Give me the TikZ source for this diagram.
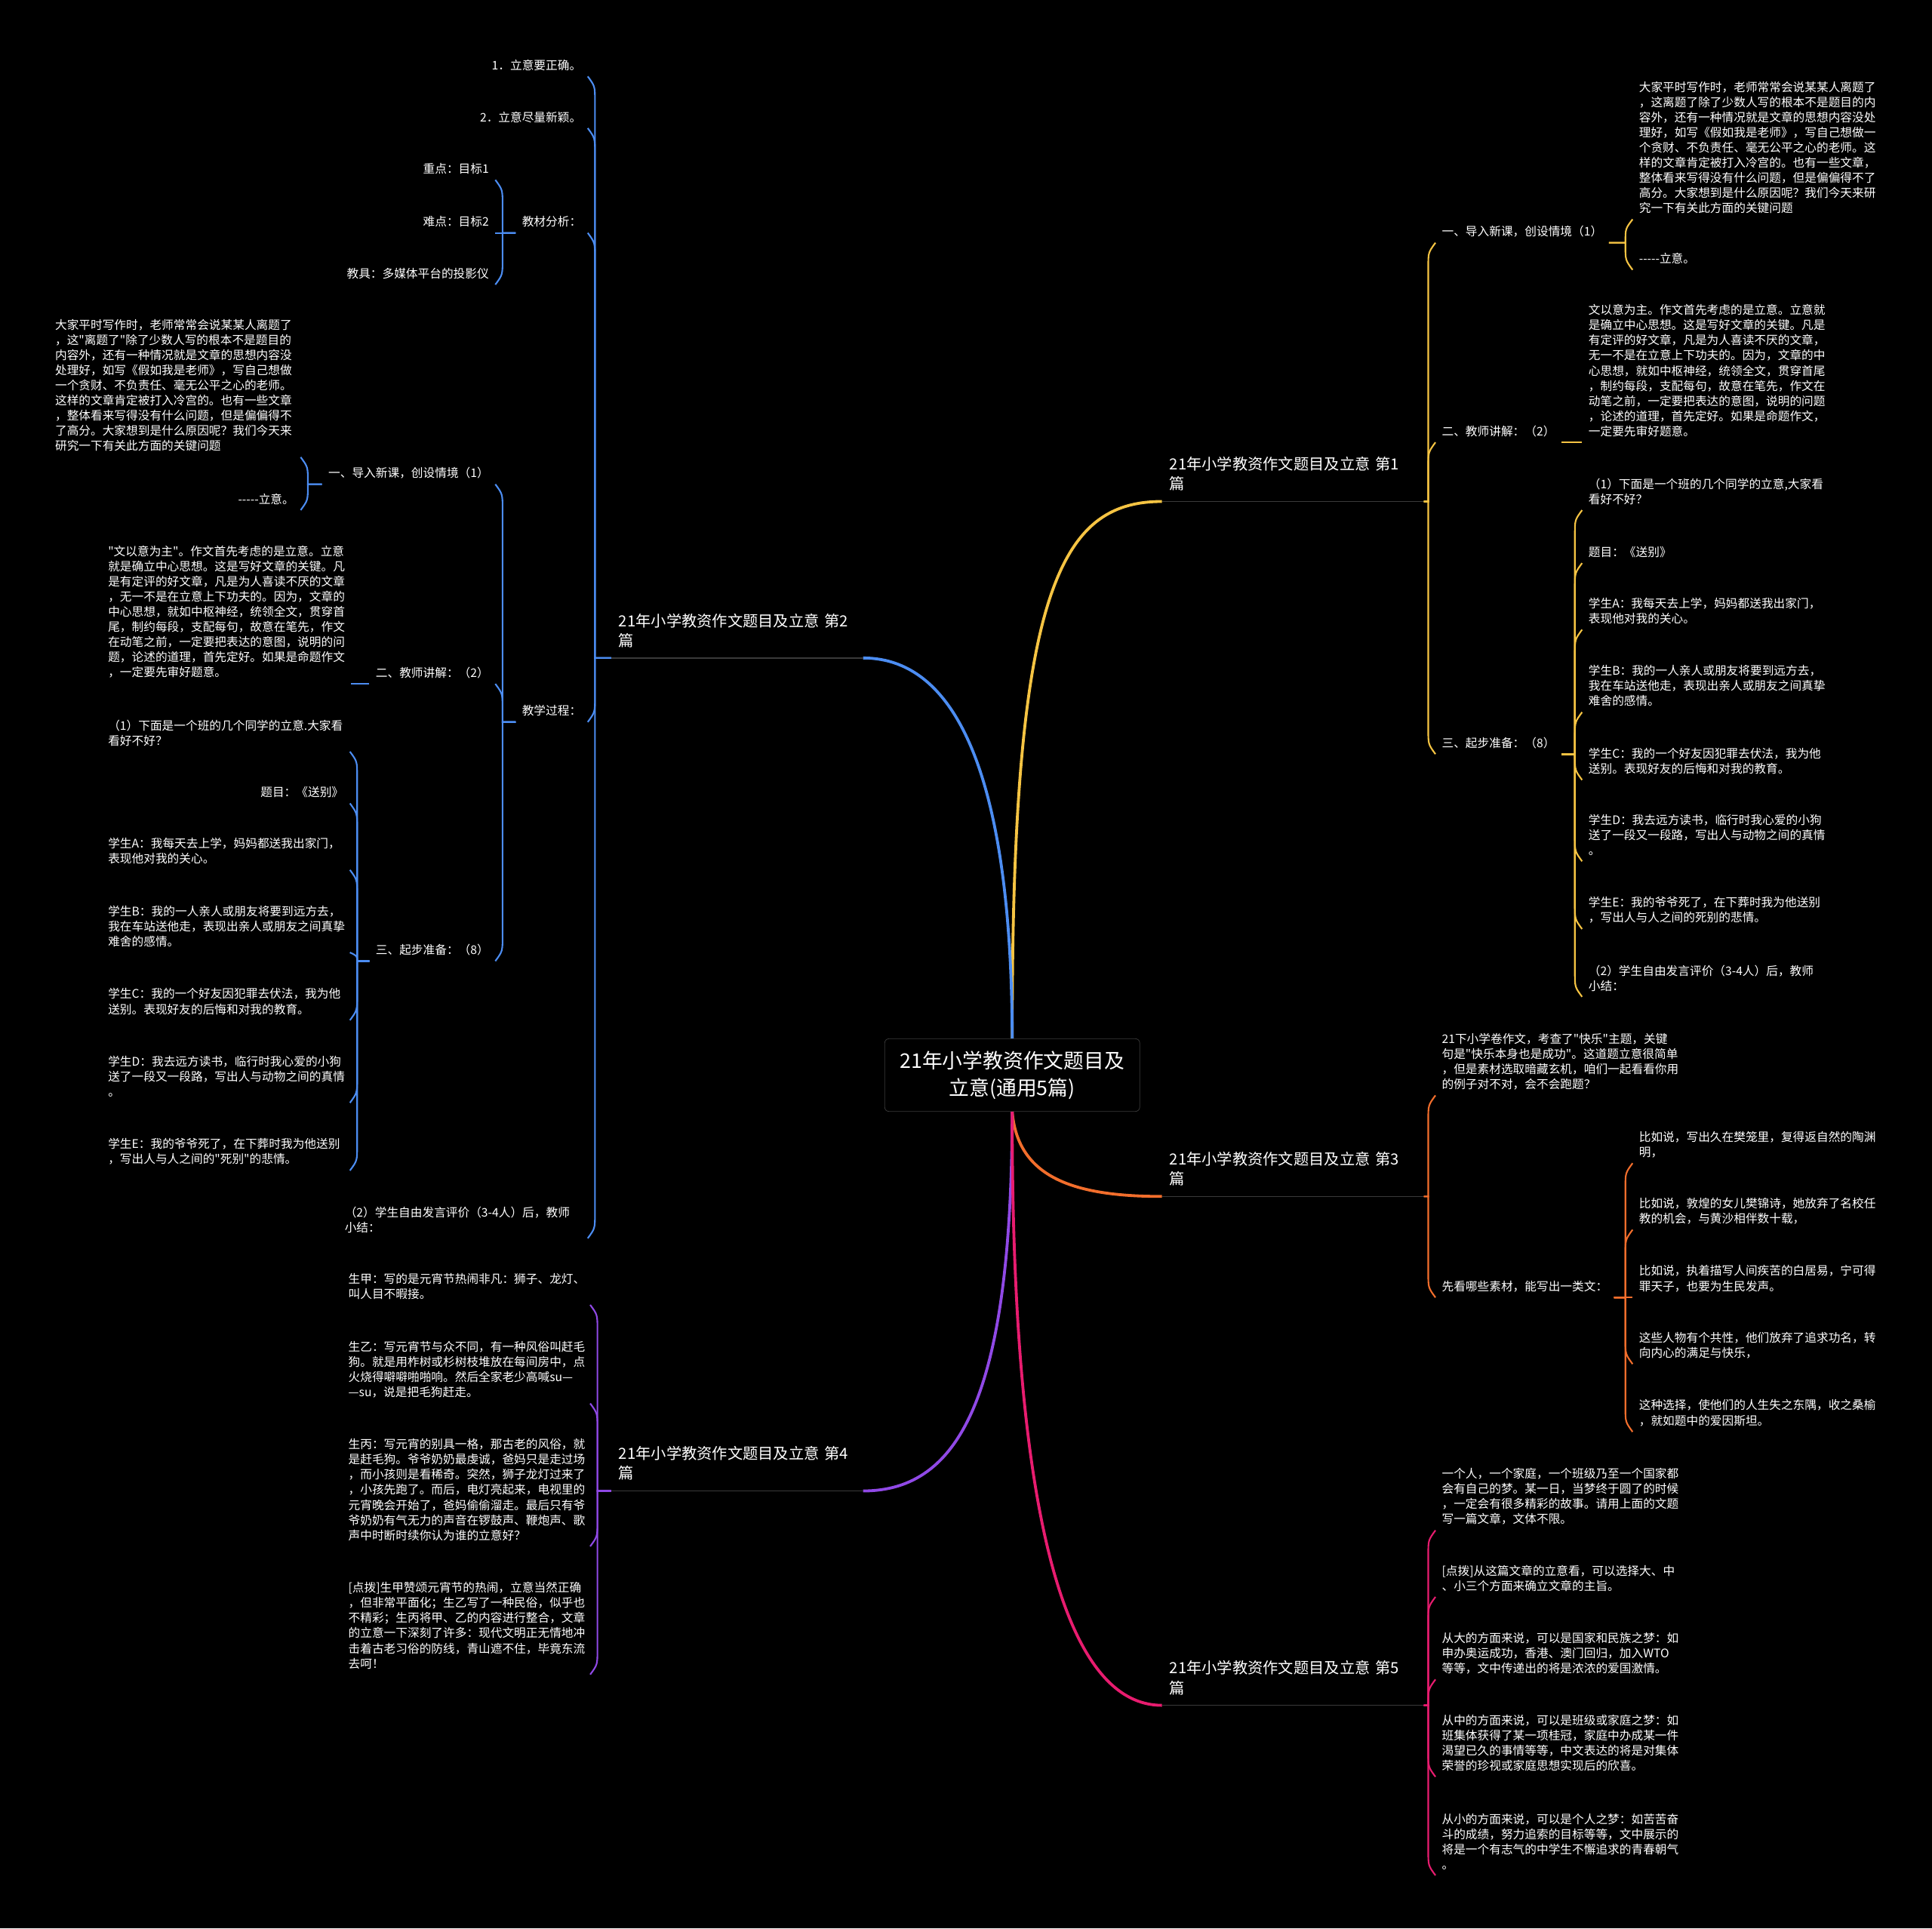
\documentclass[tikz,border=0pt]{standalone}
\usepackage{fontspec}
\setmainfont{Noto Sans CJK SC}[Ligatures=TeXOff]
\usepackage{xcolor}
\usetikzlibrary{positioning,calc}
\definecolor{topicyellow}{HTML}{F6C443}
\definecolor{topicblue}{HTML}{4C8DF2}
\definecolor{topicorange}{HTML}{F26E2C}
\definecolor{topicpurple}{HTML}{9049E6}
\definecolor{topicpink}{HTML}{E81C6F}
\definecolor{rulegray}{HTML}{3A3A3A}

\begin{document}
\begin{tikzpicture}[
  x=0.03cm, y=-0.03cm,
  rootbox/.style={draw=rulegray, fill=black, rounded corners=3pt, text=white, align=center,
    font=\fontsize{14}{18.8}\selectfont, minimum width=6.21cm, minimum height=1.77cm},
  topicnode/.style={anchor=south west, text=white, align=left, text width=6cm,
    font=\fontsize{10.6}{13.6}\selectfont, inner xsep=0.18cm, inner ysep=0.25cm},
  leafnode/.style={text=white, align=left, font=\fontsize{8.2}{10.5}\selectfont,
    inner xsep=0.15cm, inner ysep=0.13cm},
  mainline/.style={line width=2pt},
  ruleline/.style={draw=rulegray, line width=0.8pt},
  hookr/.style={line width=1.1pt, to path={let \p1=(\tikztostart), \p2=(\tikztotarget),
    \n1={max(min(\y1-\y2,17),-17)}, \n2={0.4*\n1} in
    -- (\x2-5pt,\y1) -- (\x2-5pt,\y2+\n1)
    .. controls (\x2-5pt,\y2+\n2) .. (\tikztotarget)}},
  hookl/.style={line width=1.1pt, to path={let \p1=(\tikztostart), \p2=(\tikztotarget),
    \n1={max(min(\y1-\y2,17),-17)}, \n2={0.4*\n1} in
    -- (\x2+5pt,\y1) -- (\x2+5pt,\y2+\n1)
    .. controls (\x2+5pt,\y2+\n2) .. (\tikztotarget)}}
]
  \useasboundingbox (0,0) rectangle (1568,1565);
  \fill[black] (0,0) rectangle (1568,1565);

  % centre and the five topics
  \node[rootbox] (root) at (821.5,872.5) {21年小学教资作文题目及\\立意(通用5篇)};
  \node[topicnode] (t1) at (943,407) {21年小学教资作文题目及立意 第1\\篇};
  \node[topicnode, text width=5.76cm] (t2) at (496,534) {21年小学教资作文题目及立意 第2\\篇};
  \node[topicnode] (t3) at (943,971) {21年小学教资作文题目及立意 第3\\篇};
  \node[topicnode, text width=5.76cm] (t4) at (496,1210) {21年小学教资作文题目及立意 第4\\篇};
  \node[topicnode] (t5) at (943,1384) {21年小学教资作文题目及立意 第5\\篇};

  \draw[mainline, topicyellow] (root.north) .. controls (821,480) and (860,407) .. (t1.south west);
  \draw[mainline, topicblue] (root.north) .. controls (821,640) and (780,534) .. (t2.south east);
  \draw[mainline, topicorange] (root.south) .. controls (826,955) and (870,971) .. (t3.south west);
  \draw[mainline, topicpurple] (root.south) .. controls (821,1130) and (780,1210) .. (t4.south east);
  \draw[mainline, topicpink] (root.south) .. controls (821,1250) and (870,1384) .. (t5.south west);
  \draw[ruleline] (t1.south west) -- (t1.south east);
  \draw[ruleline] (t2.south west) -- (t2.south east);
  \draw[ruleline] (t3.south west) -- (t3.south east);
  \draw[ruleline] (t4.south west) -- (t4.south east);
  \draw[ruleline] (t5.south west) -- (t5.south east);

  % topic 1
  \node[leafnode, anchor=south west] (t1a) at (1165,197) {一、导入新课，创设情境（1）};
  \node[leafnode, anchor=south west] (t1b) at (1165,359) {二、教师讲解：（2）};
  \node[leafnode, anchor=south west] (t1c) at (1165,612) {三、起步准备：（8）};
  \node[leafnode, anchor=south west] (t1a1) at (1325,178) {大家平时写作时，老师常常会说某某人离题了\\，这离题了除了少数人写的根本不是题目的内\\容外，还有一种情况就是文章的思想内容没处\\理好，如写《假如我是老师》，写自己想做一\\个贪财、不负责任、毫无公平之心的老师。这\\样的文章肯定被打入冷宫的。也有一些文章，\\整体看来写得没有什么问题，但是偏偏得不了\\高分。大家想到是什么原因呢？我们今天来研\\究一下有关此方面的关键问题};
  \node[leafnode, anchor=south west] (t1a2) at (1325,219) {-{}-{}-{}-{}-立意。};
  \node[leafnode, anchor=south west] (t1b1) at (1284,359) {文以意为主。作文首先考虑的是立意。立意就\\是确立中心思想。这是写好文章的关键。凡是\\有定评的好文章，凡是为人喜读不厌的文章，\\无一不是在立意上下功夫的。因为，文章的中\\心思想，就如中枢神经，统领全文，贯穿首尾\\，制约每段，支配每句，故意在笔先，作文在\\动笔之前，一定要把表达的意图，说明的问题\\，论述的道理，首先定好。如果是命题作文，\\一定要先审好题意。};
  \node[leafnode, anchor=south west] (t1c1) at (1284,414) {（1）下面是一个班的几个同学的立意,大家看\\看好不好？};
  \node[leafnode, anchor=south west] (t1c2) at (1284,457) {题目：《送别》};
  \node[leafnode, anchor=south west] (t1c3) at (1284,511) {学生A：我每天去上学，妈妈都送我出家门，\\表现他对我的关心。};
  \node[leafnode, anchor=south west] (t1c4) at (1284,578) {学生B：我的一人亲人或朋友将要到远方去，\\我在车站送他走，表现出亲人或朋友之间真挚\\难舍的感情。};
  \node[leafnode, anchor=south west] (t1c5) at (1284,633) {学生C：我的一个好友因犯罪去伏法，我为他\\送别。表现好友的后悔和对我的教育。};
  \node[leafnode, anchor=south west] (t1c6) at (1284,699) {学生D：我去远方读书，临行时我心爱的小狗\\送了一段又一段路，写出人与动物之间的真情\\。};
  \node[leafnode, anchor=south west] (t1c7) at (1284,754) {学生E：我的爷爷死了，在下葬时我为他送别\\，写出人与人之间的死别的悲情。};
  \node[leafnode, anchor=south west] (t1c8) at (1284,809) {（2）学生自由发言评价（3-4人）后，教师\\小结：};

  \draw[hookr, topicyellow] (t1.south east) to (t1a.south west);
  \draw[hookr, topicyellow] (t1.south east) to (t1b.south west);
  \draw[hookr, topicyellow] (t1.south east) to (t1c.south west);
  \draw[hookr, topicyellow] (t1a.south east) to (t1a1.south west);
  \draw[hookr, topicyellow] (t1a.south east) to (t1a2.south west);
  \draw[hookr, topicyellow] (t1b.south east) to (t1b1.south west);
  \draw[hookr, topicyellow] (t1c.south east) to (t1c1.south west);
  \draw[hookr, topicyellow] (t1c.south east) to (t1c2.south west);
  \draw[hookr, topicyellow] (t1c.south east) to (t1c3.south west);
  \draw[hookr, topicyellow] (t1c.south east) to (t1c4.south west);
  \draw[hookr, topicyellow] (t1c.south east) to (t1c5.south west);
  \draw[hookr, topicyellow] (t1c.south east) to (t1c6.south west);
  \draw[hookr, topicyellow] (t1c.south east) to (t1c7.south west);
  \draw[hookr, topicyellow] (t1c.south east) to (t1c8.south west);

  % topic 2
  \node[leafnode, anchor=south east] (t2a) at (477,62) {1．立意要正确。};
  \node[leafnode, anchor=south east] (t2b) at (477,104) {2．立意尽量新颖。};
  \node[leafnode, anchor=south east] (t2c) at (477,189) {教材分析：};
  \node[leafnode, anchor=south east] (t2d) at (477,586) {教学过程：};
  \node[leafnode, anchor=south east, text width=5.76cm] (t2e) at (477,1005) {（2）学生自由发言评价（3-4人）后，教师\\小结：};
  \node[leafnode, anchor=south east] (t2c1) at (402,146) {重点：目标1};
  \node[leafnode, anchor=south east] (t2c2) at (402,189) {难点：目标2};
  \node[leafnode, anchor=south east] (t2c3) at (402,231) {教具：多媒体平台的投影仪};
  \node[leafnode, anchor=south east] (t2d1) at (402,393) {一、导入新课，创设情境（1）};
  \node[leafnode, anchor=south east] (t2d2) at (402,555) {二、教师讲解：（2）};
  \node[leafnode, anchor=south east] (t2d3) at (402,780) {三、起步准备：（8）};
  \node[leafnode, anchor=south east, text width=5.82cm] (t2d1a) at (244,371) {大家平时写作时，老师常常会说某某人离题了\\，这"离题了"除了少数人写的根本不是题目的\\内容外，还有一种情况就是文章的思想内容没\\处理好，如写《假如我是老师》，写自己想做\\一个贪财、不负责任、毫无公平之心的老师。\\这样的文章肯定被打入冷宫的。也有一些文章\\，整体看来写得没有什么问题，但是偏偏得不\\了高分。大家想到是什么原因呢？我们今天来\\研究一下有关此方面的关键问题};
  \node[leafnode, anchor=south east] (t2d1b) at (244,414) {-{}-{}-{}-{}-立意。};
  \node[leafnode, anchor=south east, text width=5.76cm] (t2d2a) at (285,555) {"文以意为主"。作文首先考虑的是立意。立意\\就是确立中心思想。这是写好文章的关键。凡\\是有定评的好文章，凡是为人喜读不厌的文章\\，无一不是在立意上下功夫的。因为，文章的\\中心思想，就如中枢神经，统领全文，贯穿首\\尾，制约每段，支配每句，故意在笔先，作文\\在动笔之前，一定要把表达的意图，说明的问\\题，论述的道理，首先定好。如果是命题作文\\，一定要先审好题意。};
  \node[leafnode, anchor=south east, text width=5.73cm] (t2d3a) at (284,610) {（1）下面是一个班的几个同学的立意.大家看\\看好不好？};
  \node[leafnode, anchor=south east] (t2d3b) at (284,652) {题目：《送别》};
  \node[leafnode, anchor=south east, text width=5.73cm] (t2d3c) at (284,706) {学生A：我每天去上学，妈妈都送我出家门，\\表现他对我的关心。};
  \node[leafnode, anchor=south east, text width=5.73cm] (t2d3d) at (284,773) {学生B：我的一人亲人或朋友将要到远方去，\\我在车站送他走，表现出亲人或朋友之间真挚\\难舍的感情。};
  \node[leafnode, anchor=south east, text width=5.73cm] (t2d3e) at (284,828) {学生C：我的一个好友因犯罪去伏法，我为他\\送别。表现好友的后悔和对我的教育。};
  \node[leafnode, anchor=south east, text width=5.73cm] (t2d3f) at (284,895) {学生D：我去远方读书，临行时我心爱的小狗\\送了一段又一段路，写出人与动物之间的真情\\。};
  \node[leafnode, anchor=south east, text width=5.73cm] (t2d3g) at (284,950) {学生E：我的爷爷死了，在下葬时我为他送别\\，写出人与人之间的"死别"的悲情。};

  \draw[hookl, topicblue] (t2.south west) to (t2a.south east);
  \draw[hookl, topicblue] (t2.south west) to (t2b.south east);
  \draw[hookl, topicblue] (t2.south west) to (t2c.south east);
  \draw[hookl, topicblue] (t2.south west) to (t2d.south east);
  \draw[hookl, topicblue] (t2.south west) to (t2e.south east);
  \draw[hookl, topicblue] (t2c.south west) to (t2c1.south east);
  \draw[hookl, topicblue] (t2c.south west) to (t2c2.south east);
  \draw[hookl, topicblue] (t2c.south west) to (t2c3.south east);
  \draw[hookl, topicblue] (t2d.south west) to (t2d1.south east);
  \draw[hookl, topicblue] (t2d.south west) to (t2d2.south east);
  \draw[hookl, topicblue] (t2d.south west) to (t2d3.south east);
  \draw[hookl, topicblue] (t2d1.south west) to (t2d1a.south east);
  \draw[hookl, topicblue] (t2d1.south west) to (t2d1b.south east);
  \draw[hookl, topicblue] (t2d2.south west) to (t2d2a.south east);
  \draw[hookl, topicblue] (t2d3.south west) to (t2d3a.south east);
  \draw[hookl, topicblue] (t2d3.south west) to (t2d3b.south east);
  \draw[hookl, topicblue] (t2d3.south west) to (t2d3c.south east);
  \draw[hookl, topicblue] (t2d3.south west) to (t2d3d.south east);
  \draw[hookl, topicblue] (t2d3.south west) to (t2d3e.south east);
  \draw[hookl, topicblue] (t2d3.south west) to (t2d3f.south east);
  \draw[hookl, topicblue] (t2d3.south west) to (t2d3g.south east);

  % topic 3
  \node[leafnode, anchor=south west] (t3a) at (1165,889) {21下小学卷作文，考查了"快乐"主题，关键\\句是"快乐本身也是成功"。这道题立意很简单\\，但是素材选取暗藏玄机，咱们一起看看你用\\的例子对不对，会不会跑题？};
  \node[leafnode, anchor=south west] (t3b) at (1165,1053) {先看哪些素材，能写出一类文：};
  \node[leafnode, anchor=south west] (t3b1) at (1325,944) {比如说，写出久在樊笼里，复得返自然的陶渊\\明，};
  \node[leafnode, anchor=south west] (t3b2) at (1325,998) {比如说，敦煌的女儿樊锦诗，她放弃了名校任\\教的机会，与黄沙相伴数十载，};
  \node[leafnode, anchor=south west] (t3b3) at (1325,1053) {比如说，执着描写人间疾苦的白居易，宁可得\\罪天子，也要为生民发声。};
  \node[leafnode, anchor=south west] (t3b4) at (1325,1107) {这些人物有个共性，他们放弃了追求功名，转\\向内心的满足与快乐，};
  \node[leafnode, anchor=south west] (t3b5) at (1325,1162) {这种选择，使他们的人生失之东隅，收之桑榆\\，就如题中的爱因斯坦。};

  \draw[hookr, topicorange] (t3.south east) to (t3a.south west);
  \draw[hookr, topicorange] (t3.south east) to (t3b.south west);
  \draw[hookr, topicorange] (t3b.south east) to (t3b1.south west);
  \draw[hookr, topicorange] (t3b.south east) to (t3b2.south west);
  \draw[hookr, topicorange] (t3b.south east) to (t3b3.south west);
  \draw[hookr, topicorange] (t3b.south east) to (t3b4.south west);
  \draw[hookr, topicorange] (t3b.south east) to (t3b5.south west);

  % topic 4
  \node[leafnode, anchor=south east, text width=5.73cm] (t4a) at (479,1059) {生甲：写的是元宵节热闹非凡：狮子、龙灯、\\叫人目不暇接。};
  \node[leafnode, anchor=south east, text width=5.73cm] (t4b) at (479,1139) {生乙：写元宵节与众不同，有一种风俗叫赶毛\\狗。就是用柞树或杉树枝堆放在每间房中，点\\火烧得噼噼啪啪响。然后全家老少高喊su—\\—su，说是把毛狗赶走。};
  \node[leafnode, anchor=south east, text width=5.73cm] (t4c) at (479,1255) {生丙：写元宵的别具一格，那古老的风俗，就\\是赶毛狗。爷爷奶奶最虔诚，爸妈只是走过场\\，而小孩则是看稀奇。突然，狮子龙灯过来了\\，小孩先跑了。而后，电灯亮起来，电视里的\\元宵晚会开始了，爸妈偷偷溜走。最后只有爷\\爷奶奶有气无力的声音在锣鼓声、鞭炮声、歌\\声中时断时续你认为谁的立意好？};
  \node[leafnode, anchor=south east, text width=5.73cm] (t4d) at (479,1359) {[点拨]生甲赞颂元宵节的热闹，立意当然正确\\，但非常平面化；生乙写了一种民俗，似乎也\\不精彩；生丙将甲、乙的内容进行整合，文章\\的立意一下深刻了许多：现代文明正无情地冲\\击着古老习俗的防线，青山遮不住，毕竟东流\\去呵！};

  \draw[hookl, topicpurple] (t4.south west) to (t4a.south east);
  \draw[hookl, topicpurple] (t4.south west) to (t4b.south east);
  \draw[hookl, topicpurple] (t4.south west) to (t4c.south east);
  \draw[hookl, topicpurple] (t4.south west) to (t4d.south east);

  % topic 5
  \node[leafnode, anchor=south west] (t5a) at (1165,1242) {一个人，一个家庭，一个班级乃至一个国家都\\会有自己的梦。某一日，当梦终于圆了的时候\\，一定会有很多精彩的故事。请用上面的文题\\写一篇文章，文体不限。};
  \node[leafnode, anchor=south west] (t5b) at (1165,1296) {[点拨]从这篇文章的立意看，可以选择大、中\\、小三个方面来确立文章的主旨。};
  \node[leafnode, anchor=south west] (t5c) at (1165,1363) {从大的方面来说，可以是国家和民族之梦：如\\申办奥运成功，香港、澳门回归，加入WTO\\等等，文中传递出的将是浓浓的爱国激情。};
  \node[leafnode, anchor=south west] (t5d) at (1165,1442) {从中的方面来说，可以是班级或家庭之梦：如\\班集体获得了某一项桂冠，家庭中办成某一件\\渴望已久的事情等等，中文表达的将是对集体\\荣誉的珍视或家庭思想实现后的欣喜。};
  \node[leafnode, anchor=south west] (t5e) at (1165,1522) {从小的方面来说，可以是个人之梦：如苦苦奋\\斗的成绩，努力追索的目标等等，文中展示的\\将是一个有志气的中学生不懈追求的青春朝气\\。};

  \draw[hookr, topicpink] (t5.south east) to (t5a.south west);
  \draw[hookr, topicpink] (t5.south east) to (t5b.south west);
  \draw[hookr, topicpink] (t5.south east) to (t5c.south west);
  \draw[hookr, topicpink] (t5.south east) to (t5d.south west);
  \draw[hookr, topicpink] (t5.south east) to (t5e.south west);
\end{tikzpicture}
\end{document}
